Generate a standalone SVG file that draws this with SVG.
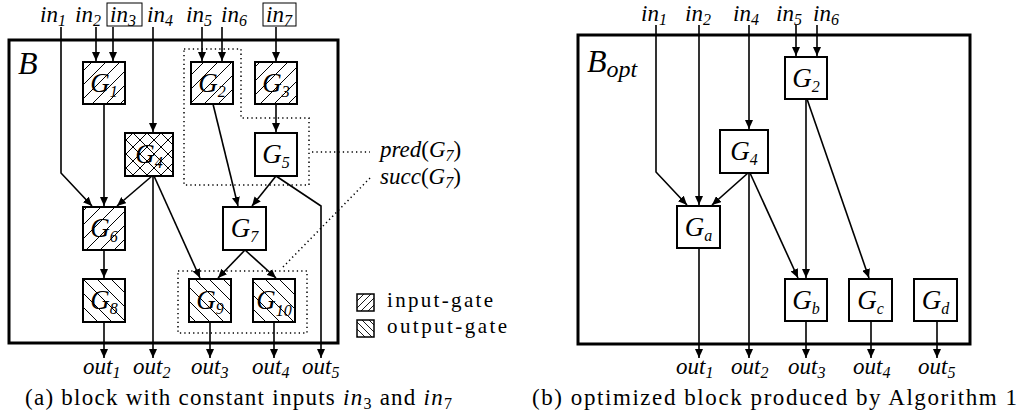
<svg xmlns="http://www.w3.org/2000/svg" width="1021" height="416" viewBox="0 0 1021 416">
<defs>
<style>
.frame{fill:none;stroke:#000;stroke-width:3}
.box{stroke:#000;stroke-width:2;fill:#fff}
.hin{fill:url(#pIn)}
.hout{fill:url(#pOut)}
.hx{fill:url(#pX)}
.w{fill:none;stroke:#000;stroke-width:1.6;marker-end:url(#arr)}
.dot{fill:none;stroke:#000;stroke-width:1.5;stroke-dasharray:1.3 3.1}
.lg{stroke:#000;stroke-width:1.5}
text{font-family:'Liberation Serif','DejaVu Serif',serif;fill:#000}
.m{font-style:italic;font-size:23px}
.g{font-style:italic;font-size:27px}
.s{font-size:16px}
.rm{font-style:normal}
.mi{font-style:italic}
.cap{font-size:23px}
.lgt{font-size:21px}
</style>
<marker id="arr" viewBox="0 0 9 8" refX="9" refY="4" markerWidth="9" markerHeight="8" markerUnits="userSpaceOnUse" orient="auto">
<path d="M0,0 L9,4 L0,8 z" fill="#000"/>
</marker>
<pattern id="pIn" patternUnits="userSpaceOnUse" width="14" height="14">
<rect width="14" height="14" fill="#fff"/>
<path d="M-2,16 L16,-2 M-2,2 L2,-2 M12,16 L16,12" stroke="#000" stroke-width="1"/>
</pattern>
<pattern id="pOut" patternUnits="userSpaceOnUse" width="14" height="14">
<rect width="14" height="14" fill="#fff"/>
<path d="M-2,-2 L16,16 M-2,12 L2,16 M12,-2 L16,2" stroke="#000" stroke-width="1"/>
</pattern>
<pattern id="pX" patternUnits="userSpaceOnUse" width="14" height="14">
<rect width="14" height="14" fill="#fff"/>
<path d="M-2,16 L16,-2 M-2,2 L2,-2 M12,16 L16,12 M-2,-2 L16,16 M-2,12 L2,16 M12,-2 L16,2" stroke="#000" stroke-width="1"/>
</pattern>
<pattern id="pInS" patternUnits="userSpaceOnUse" width="7" height="7">
<rect width="7" height="7" fill="#fff"/>
<path d="M-1,8 L8,-1 M-1,1 L1,-1 M6,8 L8,6" stroke="#000" stroke-width="0.9"/>
</pattern>
<pattern id="pOutS" patternUnits="userSpaceOnUse" width="7" height="7">
<rect width="7" height="7" fill="#fff"/>
<path d="M-1,-1 L8,8 M-1,6 L1,8 M6,-1 L8,1" stroke="#000" stroke-width="0.9"/>
</pattern>
</defs>

<!-- ============ (a) ============ -->
<g id="blockB">
<rect class="frame" x="9" y="40" width="329" height="303"/>
<text class="mi" x="18" y="74" font-size="32">B</text>
</g>

<g id="regions">
<path class="dot" d="M184,49 L241,49 L241,118 L309,118 L309,185 L184,185 Z"/>
<rect class="dot" x="178" y="271" width="129" height="62"/>
<path class="dot" d="M312,152 L370,152"/>
<path class="dot" d="M283,267 L370,178"/>
</g>

<g id="inputs-a">
<text class="m" x="40" y="22">in<tspan class="s" dy="4">1</tspan></text>
<text class="m" x="75" y="22">in<tspan class="s" dy="4">2</tspan></text>
<rect x="107" y="3" width="35" height="23" fill="none" stroke="#000" stroke-width="1"/>
<text class="m" x="110" y="22">in<tspan class="s" dy="4">3</tspan></text>
<text class="m" x="147" y="22">in<tspan class="s" dy="4">4</tspan></text>
<text class="m" x="186" y="22">in<tspan class="s" dy="4">5</tspan></text>
<text class="m" x="221" y="22">in<tspan class="s" dy="4">6</tspan></text>
<rect x="263" y="3" width="33" height="23" fill="none" stroke="#000" stroke-width="1"/>
<text class="m" x="266" y="22">in<tspan class="s" dy="4">7</tspan></text>
</g>

<g id="outputs-a">
<text class="m" x="83" y="374">out<tspan class="s" dy="4">1</tspan></text>
<text class="m" x="133" y="374">out<tspan class="s" dy="4">2</tspan></text>
<text class="m" x="191" y="374">out<tspan class="s" dy="4">3</tspan></text>
<text class="m" x="252" y="374">out<tspan class="s" dy="4">4</tspan></text>
<text class="m" x="302" y="374">out<tspan class="s" dy="4">5</tspan></text>
</g>

<g id="connectors-a">
<path class="w" d="M61,27 L61,173 L92,206"/>
<path class="w" d="M96,27 L96,61"/>
<path class="w" d="M113,27 L113,61"/>
<path class="w" d="M153,27 L153,132"/>
<path class="w" d="M202,27 L202,61"/>
<path class="w" d="M222,27 L222,61"/>
<path class="w" d="M276,27 L276,61"/>
<path class="w" d="M104,104 L104,206"/>
<path class="w" d="M152,176 L117,206"/>
<path class="w" d="M153,176 L153,358"/>
<path class="w" d="M154,176 L200,278"/>
<path class="w" d="M213,104 L238,206"/>
<path class="w" d="M276,104 L276,132"/>
<path class="w" d="M276,176 L252,206"/>
<path class="w" d="M276,176 L321,206 L321,358"/>
<path class="w" d="M104,250 L104,278"/>
<path class="w" d="M245,250 L218,278"/>
<path class="w" d="M245,250 L276,278"/>
<path class="w" d="M104,322 L104,358"/>
<path class="w" d="M210,322 L210,358"/>
<path class="w" d="M274,322 L274,358"/>
</g>

<g id="G1"><rect class="box hin" x="83" y="62" width="42" height="42"/><text class="g" x="104" y="92" text-anchor="middle">G<tspan class="s" dy="5">1</tspan></text></g>
<g id="G2"><rect class="box hin" x="191" y="62" width="42" height="42"/><text class="g" x="212" y="92" text-anchor="middle">G<tspan class="s" dy="5">2</tspan></text></g>
<g id="G3"><rect class="box hin" x="255" y="62" width="42" height="42"/><text class="g" x="276" y="92" text-anchor="middle">G<tspan class="s" dy="5">3</tspan></text></g>
<g id="G4"><rect class="box hx" x="125" y="133" width="48" height="43"/><text class="g" x="149" y="163" text-anchor="middle">G<tspan class="s" dy="5">4</tspan></text></g>
<g id="G5"><rect class="box" x="255" y="133" width="42" height="43"/><text class="g" x="276" y="163" text-anchor="middle">G<tspan class="s" dy="5">5</tspan></text></g>
<g id="G6"><rect class="box hin" x="83" y="207" width="42" height="43"/><text class="g" x="104" y="237" text-anchor="middle">G<tspan class="s" dy="5">6</tspan></text></g>
<g id="G7"><rect class="box" x="223" y="207" width="43" height="43"/><text class="g" x="244.5" y="237" text-anchor="middle">G<tspan class="s" dy="5">7</tspan></text></g>
<g id="G8"><rect class="box hout" x="83" y="279" width="42" height="43"/><text class="g" x="104" y="309" text-anchor="middle">G<tspan class="s" dy="5">8</tspan></text></g>
<g id="G9"><rect class="box hout" x="189" y="279" width="42" height="43"/><text class="g" x="210" y="309" text-anchor="middle">G<tspan class="s" dy="5">9</tspan></text></g>
<g id="G10"><rect class="box hout" x="253" y="279" width="42" height="43"/><text class="g" x="274" y="309" text-anchor="middle">G<tspan class="s" dy="7">10</tspan></text></g>

<g id="labels-a">
<text class="m" x="380" y="157" font-size="22">pred<tspan class="rm">(</tspan>G<tspan class="s" dy="4">7</tspan><tspan class="rm" dy="-4">)</tspan></text>
<text class="m" x="380" y="184" font-size="22">succ<tspan class="rm">(</tspan>G<tspan class="s" dy="4">7</tspan><tspan class="rm" dy="-4">)</tspan></text>
</g>

<g id="legend">
<rect class="lg" x="357" y="294" width="17" height="17" fill="url(#pInS)"/>
<text class="lgt" x="387" y="307" textLength="106" lengthAdjust="spacing">input-gate</text>
<rect class="lg" x="357" y="320" width="17" height="17" fill="url(#pOutS)"/>
<text class="lgt" x="387" y="333" textLength="120" lengthAdjust="spacing">output-gate</text>
</g>

<text id="caption-a" class="cap" x="25" y="405" textLength="427" lengthAdjust="spacing">(a) block with constant inputs <tspan class="mi">in</tspan><tspan class="s" dy="4">3</tspan><tspan dy="-4"> and </tspan><tspan class="mi">in</tspan><tspan class="s" dy="4">7</tspan></text>

<!-- ============ (b) ============ -->
<g id="blockBopt">
<rect class="frame" x="578" y="35" width="392" height="309"/>
<text class="mi" x="587" y="72" font-size="32">B<tspan font-size="24" dy="5">opt</tspan></text>
</g>

<g id="inputs-b">
<text class="m" x="641" y="21">in<tspan class="s" dy="4">1</tspan></text>
<text class="m" x="685" y="21">in<tspan class="s" dy="4">2</tspan></text>
<text class="m" x="733" y="21">in<tspan class="s" dy="4">4</tspan></text>
<text class="m" x="776" y="21">in<tspan class="s" dy="4">5</tspan></text>
<text class="m" x="813" y="21">in<tspan class="s" dy="4">6</tspan></text>
</g>

<g id="outputs-b">
<text class="m" x="676" y="374">out<tspan class="s" dy="4">1</tspan></text>
<text class="m" x="731" y="374">out<tspan class="s" dy="4">2</tspan></text>
<text class="m" x="788" y="374">out<tspan class="s" dy="4">3</tspan></text>
<text class="m" x="853" y="374">out<tspan class="s" dy="4">4</tspan></text>
<text class="m" x="918" y="374">out<tspan class="s" dy="4">5</tspan></text>
</g>

<g id="connectors-b">
<path class="w" d="M656,25 L656,172 L687,205"/>
<path class="w" d="M699,25 L699,205"/>
<path class="w" d="M749,25 L749,129"/>
<path class="w" d="M796,25 L796,56"/>
<path class="w" d="M817,25 L817,56"/>
<path class="w" d="M748,173 L712,205"/>
<path class="w" d="M749,173 L749,358"/>
<path class="w" d="M750,173 L798,278"/>
<path class="w" d="M806,99 L806,278"/>
<path class="w" d="M807,99 L869,278"/>
<path class="w" d="M699,248 L699,358"/>
<path class="w" d="M806,321 L806,358"/>
<path class="w" d="M871,321 L871,358"/>
<path class="w" d="M937,321 L937,358"/>
</g>

<g id="B-G2"><rect class="box" x="785" y="57" width="42" height="42"/><text class="g" x="806" y="87" text-anchor="middle">G<tspan class="s" dy="5">2</tspan></text></g>
<g id="B-G4"><rect class="box" x="720" y="130" width="48" height="43"/><text class="g" x="744" y="160" text-anchor="middle">G<tspan class="s" dy="5">4</tspan></text></g>
<g id="B-Ga"><rect class="box" x="677" y="206" width="43" height="42"/><text class="g" x="698.5" y="236" text-anchor="middle">G<tspan class="s" dy="5">a</tspan></text></g>
<g id="B-Gb"><rect class="box" x="785" y="279" width="42" height="42"/><text class="g" x="806" y="309" text-anchor="middle">G<tspan class="s" dy="5">b</tspan></text></g>
<g id="B-Gc"><rect class="box" x="849" y="279" width="43" height="42"/><text class="g" x="870.5" y="309" text-anchor="middle">G<tspan class="s" dy="5">c</tspan></text></g>
<g id="B-Gd"><rect class="box" x="914" y="279" width="43" height="42"/><text class="g" x="935.5" y="309" text-anchor="middle">G<tspan class="s" dy="5">d</tspan></text></g>

<text id="caption-b" class="cap" x="532" y="405" textLength="485" lengthAdjust="spacing">(b) optimized block produced by Algorithm 1</text>
</svg>
